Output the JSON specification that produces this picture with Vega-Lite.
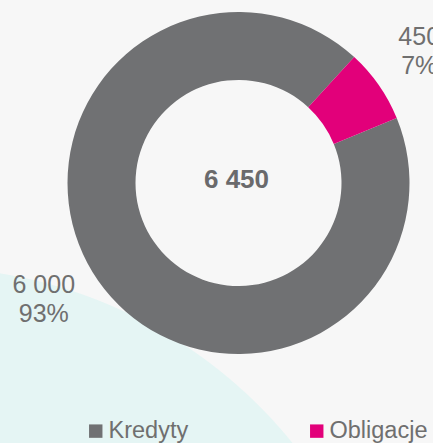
{
  "$schema": "https://vega.github.io/schema/vega-lite/v6.json",
  "width": 477,
  "height": 520,
  "autosize": {"type": "none"},
  "padding": {"left": 0, "top": -77, "right": -44, "bottom": 0},
  "background": "#f7f7f7",
  "config": {"view": {"stroke": null}},
  "data": {
    "values": [
      {"category": "Kredyty", "value": 6000},
      {"category": "Obligacje", "value": 450}
    ]
  },
  "transform": [
    {"joinaggregate": [{"op": "sum", "field": "value", "as": "total"}]},
    {"calculate": "replace(format(datum.value, ','), ',', ' ') + '\\n' + format(datum.value / datum.total, '.0%')", "as": "label"}
  ],
  "layer": [
    {
      "transform": [{"aggregate": [{"op": "sum", "field": "value", "as": "sum"}]}],
      "mark": {
        "type": "rect",
        "fill": {
          "gradient": "radial",
          "x1": -0.1038, "y1": 1.572, "r1": 0,
          "x2": -0.1038, "y2": 1.572, "r2": 0.9108,
          "stops": [
            {"offset": 0, "color": "#e5f5f4"},
            {"offset": 0.998, "color": "#e5f5f4"},
            {"offset": 1, "color": "#f7f7f7"}
          ]
        }
      },
      "encoding": {}
    },
    {
      "mark": {"type": "arc", "innerRadius": 103, "outerRadius": 171},
      "encoding": {
        "theta": {"field": "value", "type": "quantitative", "stack": true, "scale": {"range": [1.1816, 7.4648]}},
        "order": {"field": "value", "sort": "descending"},
        "color": {
          "field": "category",
          "type": "nominal",
          "scale": {"domain": ["Kredyty", "Obligacje"], "range": ["#707173", "#e2007a"]},
          "legend": {
            "title": null,
            "orient": "none",
            "legendX": 84,
            "legendY": 496,
            "direction": "horizontal",
            "symbolType": "square",
            "symbolSize": 180,
            "symbolStrokeWidth": 0,
            "symbolOpacity": 1,
            "labelFontSize": 23.5,
            "labelFont": "Liberation Sans",
            "labelColor": "#6f6f6f",
            "labelOffset": 1,
            "columnPadding": 116,
            "padding": 0
          }
        }
      }
    },
    {
      "mark": {"type": "text", "radius": 225, "dx": -7, "dy": -22, "fontSize": 25, "font": "Liberation Sans", "color": "#6f6f6f", "lineBreak": "\n", "lineHeight": 29, "baseline": "middle", "align": "center"},
      "encoding": {
        "theta": {"field": "value", "type": "quantitative", "stack": true, "scale": {"range": [1.206, 7.4892]}},
        "order": {"field": "value", "sort": "descending"},
        "text": {"field": "label"}
      }
    },
    {
      "transform": [
        {"aggregate": [{"op": "sum", "field": "value", "as": "sum"}]},
        {"calculate": "replace(format(datum.sum, ','), ',', ' ')", "as": "t"}
      ],
      "mark": {"type": "text", "fontSize": 26, "font": "Liberation Sans", "fontWeight": "bold", "color": "#6a6a6c", "baseline": "middle", "align": "center", "dx": -2, "dy": -3},
      "encoding": {"text": {"field": "t"}}
    }
  ],
  "resolve": {"scale": {"theta": "independent"}}
}
